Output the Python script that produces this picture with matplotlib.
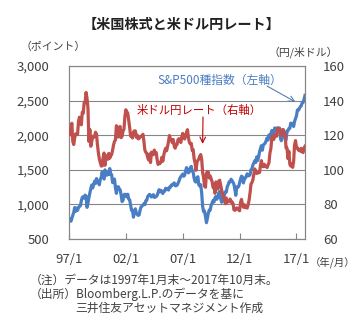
import numpy as np
import matplotlib
matplotlib.use('Agg')
import matplotlib.pyplot as plt

plt.rcParams['font.family'] = ['Noto Sans CJK JP', 'DejaVu Sans']

# month-end values, 1997/1 .. 2017/10
sp500 = [
    786, 791, 757, 801, 848, 885, 954, 899, 947, 915, 955, 970,
    980, 1049, 1102, 1112, 1091, 1134, 1121, 957, 1017, 1099, 1164, 1229,
    1280, 1238, 1286, 1335, 1302, 1373, 1329, 1320, 1283, 1363, 1389, 1469,
    1394, 1366, 1499, 1452, 1421, 1455, 1431, 1518, 1437, 1429, 1315, 1320,
    1366, 1240, 1160, 1249, 1256, 1224, 1211, 1134, 1041, 1060, 1139, 1148,
    1130, 1107, 1147, 1077, 1067, 990, 912, 916, 815, 886, 936, 880,
    856, 841, 848, 917, 964, 975, 990, 1008, 996, 1051, 1058, 1112,
    1131, 1145, 1126, 1107, 1121, 1141, 1102, 1104, 1115, 1130, 1174, 1212,
    1181, 1204, 1181, 1157, 1192, 1191, 1234, 1220, 1229, 1207, 1249, 1248,
    1280, 1281, 1295, 1311, 1270, 1270, 1277, 1304, 1336, 1378, 1401, 1418,
    1438, 1407, 1421, 1482, 1531, 1503, 1455, 1474, 1527, 1549, 1481, 1468,
    1379, 1331, 1323, 1386, 1400, 1280, 1267, 1283, 1166, 969, 896, 903,
    826, 735, 798, 873, 919, 919, 987, 1021, 1057, 1036, 1096, 1115,
    1074, 1104, 1169, 1187, 1089, 1031, 1102, 1049, 1141, 1183, 1181, 1258,
    1286, 1327, 1326, 1364, 1345, 1321, 1292, 1219, 1131, 1253, 1247, 1258,
    1312, 1366, 1408, 1398, 1310, 1362, 1379, 1407, 1441, 1412, 1416, 1426,
    1498, 1515, 1569, 1598, 1631, 1606, 1686, 1633, 1682, 1757, 1806, 1848,
    1783, 1859, 1872, 1884, 1924, 1960, 1931, 2003, 1972, 2018, 2068, 2059,
    1995, 2105, 2068, 2086, 2107, 2063, 2104, 1972, 1920, 2079, 2080, 2044,
    1940, 1932, 2060, 2065, 2097, 2099, 2174, 2171, 2168, 2126, 2199, 2239,
    2279, 2364, 2363, 2384, 2412, 2423, 2470, 2472, 2519, 2575,
]

usdjpy = [
    121.2, 120.2, 123.9, 126.9, 116.4, 114.6, 118.4, 120.8, 120.7, 120.4, 127.8, 130.4,
    127.0, 126.0, 133.3, 132.6, 138.8, 138.8, 144.7, 141.4, 135.8, 116.4, 123.3, 113.6,
    116.3, 119.4, 118.7, 119.3, 121.7, 120.7, 114.6, 109.8, 106.3, 104.3, 102.2, 102.2,
    107.2, 109.7, 102.6, 108.2, 107.7, 106.1, 109.5, 106.7, 108.2, 108.8, 111.4, 114.4,
    116.4, 117.3, 125.5, 123.7, 118.9, 124.7, 125.0, 118.6, 119.4, 122.4, 123.5, 131.0,
    134.7, 133.6, 132.7, 128.5, 124.4, 119.5, 119.8, 118.4, 121.8, 122.5, 122.5, 118.8,
    120.0, 117.9, 118.1, 119.1, 119.3, 119.8, 120.5, 116.7, 111.5, 110.1, 109.6, 107.1,
    105.7, 109.1, 104.2, 110.2, 109.5, 108.7, 111.4, 109.4, 110.0, 105.8, 103.1, 104.1,
    103.6, 104.6, 107.2, 105.0, 108.5, 110.9, 112.5, 111.0, 113.5, 116.4, 119.8, 117.8,
    117.3, 115.7, 117.5, 113.9, 112.5, 114.4, 114.6, 117.4, 118.0, 116.9, 115.8, 119.0,
    121.0, 118.6, 117.8, 119.6, 121.7, 123.2, 118.7, 115.8, 114.9, 115.3, 111.2, 111.7,
    106.4, 103.9, 99.7, 104.1, 105.5, 106.2, 107.9, 108.8, 106.0, 98.5, 95.5, 90.6,
    89.9, 97.9, 98.9, 98.6, 95.3, 96.4, 94.7, 93.1, 89.8, 90.2, 86.4, 93.0,
    90.3, 88.9, 93.5, 94.0, 91.3, 88.4, 86.4, 84.2, 83.5, 80.4, 83.7, 81.1,
    82.0, 81.8, 83.1, 81.2, 81.5, 80.6, 76.9, 76.6, 77.0, 78.0, 77.6, 76.9,
    76.3, 81.2, 82.9, 80.0, 78.4, 79.8, 78.1, 78.4, 77.9, 79.8, 82.5, 86.6,
    91.7, 92.6, 94.2, 97.4, 100.5, 99.1, 97.9, 98.2, 98.3, 98.4, 102.4, 105.3,
    102.0, 101.8, 103.2, 102.2, 101.8, 101.3, 102.8, 104.1, 109.7, 112.3, 118.6, 119.8,
    117.5, 119.6, 120.1, 119.4, 124.1, 122.5, 123.9, 121.2, 119.9, 120.6, 123.2, 120.2,
    121.0, 112.7, 112.6, 106.5, 110.7, 103.2, 102.1, 103.4, 101.4, 104.8, 114.4, 116.9,
    112.8, 112.8, 111.4, 111.5, 110.8, 112.4, 110.3, 110.0, 112.5, 113.6,
]

xtick_pos = [0, 60, 120, 180, 240]
xtick_labels = ['97/1', '02/1', '07/1', '12/1', '17/1']

BLUE = '#4A7EC4'
RED = '#C0504D'
DARKRED = '#C00000'
GRAY = '#868686'
TXT = '#404040'

W, H = 359, 322
fig = plt.figure(figsize=(W / 100, H / 100), dpi=100)
ax = fig.add_axes([69 / W, 1 - 239 / H, 236 / W, 173 / H])
ax2 = ax.twinx()


def fx(px):
    return px / W


def fy(py):
    return 1 - py / H


months = np.arange(len(sp500))
ax.plot(months, sp500, color=BLUE, lw=2.3, solid_joinstyle='round', zorder=2)
ax2.plot(np.arange(len(usdjpy)), usdjpy, color=RED, lw=2.3, solid_joinstyle='round', zorder=3)

ax.set_xlim(0, len(sp500) - 1)
ax.set_ylim(500, 3000)
ax.set_yticks(np.arange(500, 3001, 500))
ax.set_yticklabels([f'{v:,}' for v in range(500, 3001, 500)])
ax2.set_ylim(60, 160)
ax2.set_yticks(np.arange(60, 161, 20))

ax.set_xticks(xtick_pos)
ax.set_xticklabels(xtick_labels)
ax.grid(axis='y', color=GRAY, lw=0.8)
ax.tick_params(axis='x', direction='in', length=4, color=GRAY, pad=10,
               labelsize=9.5, labelcolor=TXT)
ax.tick_params(axis='y', length=0, pad=14, labelsize=9.5, labelcolor=TXT)
ax2.tick_params(axis='y', length=0, pad=13, labelsize=9.5, labelcolor=TXT)
for a in (ax, ax2):
    for s in a.spines.values():
        s.set_color(GRAY)
        s.set_linewidth(0.8)

fig.text(fx(181), fy(25), '【米国株式と米ドル円レート】', ha='center', va='center',
         fontsize=10.2, fontweight='bold', color='#222222')
fig.text(fx(20), fy(47), '（ポイント）', ha='left', va='center', fontsize=7.8, color=TXT)
fig.text(fx(338), fy(52), '（円/米ドル）', ha='right', va='center', fontsize=7.8, color=TXT)
fig.text(fx(310), fy(262), '（年/月）', ha='left', va='center', fontsize=7.5, color=TXT)

fig.text(fx(157), fy(80), 'S&P500種指数（左軸）', ha='left', va='center',
         fontsize=8.5, color=BLUE)
ax.annotate('', xy=(239, 2480), xycoords='data',
            xytext=(fx(267), fy(86)), textcoords='figure fraction',
            arrowprops=dict(arrowstyle='->', color='#5a7fae', lw=0.8,
                            shrinkA=0, shrinkB=0))
ax2.annotate('', xy=(141, 115), xycoords='data',
             xytext=(fx(203), fy(117)), textcoords='figure fraction',
             arrowprops=dict(arrowstyle='->', color=DARKRED, lw=0.8,
                             shrinkA=0, shrinkB=0))
fig.text(fx(137), fy(110), '米ドル円レート（右軸）', ha='left', va='center',
         fontsize=8.2, color=DARKRED)

fig.text(fx(30), fy(280), '（注）データは1997年1月末～2017年10月末。',
         ha='left', va='center', fontsize=8.5, color=TXT)
fig.text(fx(30), fy(294), '（出所）Bloomberg.L.P.のデータを基に',
         ha='left', va='center', fontsize=8.5, color=TXT)
fig.text(fx(75), fy(308), '三井住友アセットマネジメント作成',
         ha='left', va='center', fontsize=8.5, color=TXT)

fig.savefig('out.png', dpi=100)
